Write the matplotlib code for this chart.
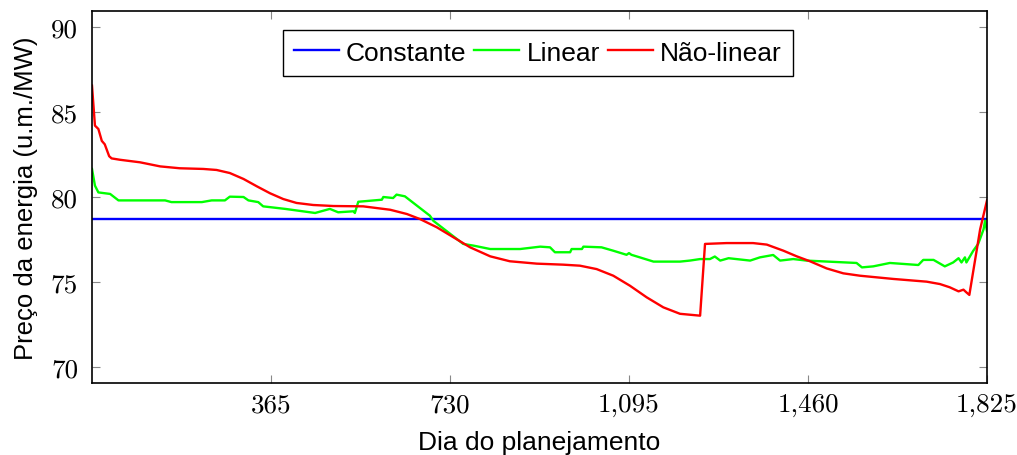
import matplotlib
matplotlib.use("Agg")
import matplotlib.pyplot as plt
import numpy as np

# Constant price
const_value = 78.7

# Linear model prices (day, value)
lin_days = [0, 6, 13, 37, 54, 149, 162, 224, 244, 271, 281, 309, 319, 339, 349, 394, 455, 485, 502,
            533, 536, 543, 591, 594, 614, 621, 638, 689, 696, 757, 778, 812, 873, 914, 934, 944, 975,
            978, 999, 1002, 1039, 1063, 1090, 1095, 1100, 1117, 1145, 1199, 1219, 1240, 1260, 1270,
            1281, 1298, 1342, 1362, 1389, 1403, 1430, 1457, 1559, 1570, 1593, 1627, 1685, 1695, 1716,
            1739, 1756, 1767, 1773, 1780, 1783, 1797, 1807, 1818, 1821, 1825]
lin_vals = [81.65, 80.67, 80.27, 80.18, 79.8, 79.8, 79.7, 79.7, 79.8, 79.8, 80.02, 80.0, 79.8, 79.7,
            79.45, 79.3, 79.06, 79.3, 79.1, 79.16, 79.06, 79.72, 79.84, 80.0, 79.94, 80.14, 80.04,
            78.9, 78.6, 77.24, 77.14, 76.94, 76.94, 77.08, 77.04, 76.75, 76.75, 76.94, 76.94, 77.08,
            77.04, 76.84, 76.6, 76.7, 76.6, 76.45, 76.2, 76.2, 76.26, 76.35, 76.35, 76.5, 76.26,
            76.4, 76.26, 76.45, 76.59, 76.26, 76.35, 76.26, 76.12, 75.86, 75.92, 76.12, 76.0, 76.3,
            76.3, 75.92, 76.15, 76.4, 76.15, 76.45, 76.15, 76.84, 77.24, 78.1, 78.6, 78.0]

# Non-linear model prices (day, value)
nl_days = [0, 6, 13, 20, 26, 35, 40, 57, 98, 139, 179, 227, 254, 281, 309, 336, 363, 390, 417, 451,
           492, 553, 608, 642, 669, 703, 737, 771, 812, 852, 907, 961, 995, 1029, 1063, 1097, 1131,
           1165, 1199, 1240, 1250, 1294, 1348, 1376, 1410, 1437, 1464, 1498, 1532, 1566, 1634, 1702,
           1729, 1749, 1767, 1777, 1783, 1789, 1811, 1825]
nl_vals = [86.55, 84.2, 84.0, 83.3, 83.1, 82.4, 82.27, 82.19, 82.04, 81.8, 81.69, 81.65, 81.59,
           81.41, 81.06, 80.63, 80.22, 79.88, 79.65, 79.53, 79.47, 79.45, 79.25, 79.0, 78.7, 78.22,
           77.63, 77.04, 76.51, 76.22, 76.08, 76.02, 75.96, 75.76, 75.37, 74.78, 74.1, 73.51, 73.13,
           73.02, 77.24, 77.29, 77.29, 77.2, 76.84, 76.51, 76.22, 75.8, 75.51, 75.37, 75.18, 75.02,
           74.88, 74.69, 74.45, 74.55, 74.39, 74.24, 78.1, 79.8]

x_ticks = [365, 730, 1095, 1460, 1825]
x_tick_labels = ["365", "730", "1,095", "1,460", "1,825"]
y_ticks = [70, 75, 80, 85, 90]

fig = plt.figure(figsize=(10.17, 4.56), dpi=100)
ax = fig.add_axes([92/1017, 1-384/456, (987-92)/1017, (384-12)/456])

ax.plot([0, 1825], [const_value, const_value], color="#0000ff", lw=1.7, label="Constante")
ax.plot(lin_days, lin_vals, color="#00ff00", lw=1.7, label="Linear")
ax.plot(nl_days, nl_vals, color="#ff0000", lw=1.7, label="Não-linear")

ax.set_xlim(0, 1825)
ax.set_ylim(69.06, 90.94)
ax.set_xticks(x_ticks)
ax.set_xticklabels(x_tick_labels, fontfamily="cmr10", fontsize=19.5)
ax.set_yticks(y_ticks)
ax.set_yticklabels([str(v) for v in y_ticks], fontfamily="cmr10", fontsize=19.5)
ax.tick_params(axis="x", direction="in", length=6, width=0.8, color="#888888",
               top=True, pad=7)
ax.tick_params(axis="y", direction="in", length=6, width=0.8, color="#888888",
               right=True, pad=10)
for s in ax.spines.values():
    s.set_linewidth(1.2)
    s.set_color("black")

ax.set_xlabel("Dia do planejamento", fontfamily="Liberation Sans", fontsize=19, labelpad=10)
ax.set_ylabel("Preço da energia (u.m./MW)", fontfamily="Liberation Sans", fontsize=18.5, labelpad=9)

leg = ax.legend(loc="upper center", ncol=3, fancybox=False, framealpha=1,
                edgecolor="black", prop={"family": "Liberation Sans", "size": 19},
                handlelength=1.7, handletextpad=0.27, columnspacing=0.3,
                borderpad=0.42, borderaxespad=0, bbox_to_anchor=(0.498, 0.95))
leg.get_frame().set_linewidth(1.0)

fig.savefig("out.png", dpi=100)
